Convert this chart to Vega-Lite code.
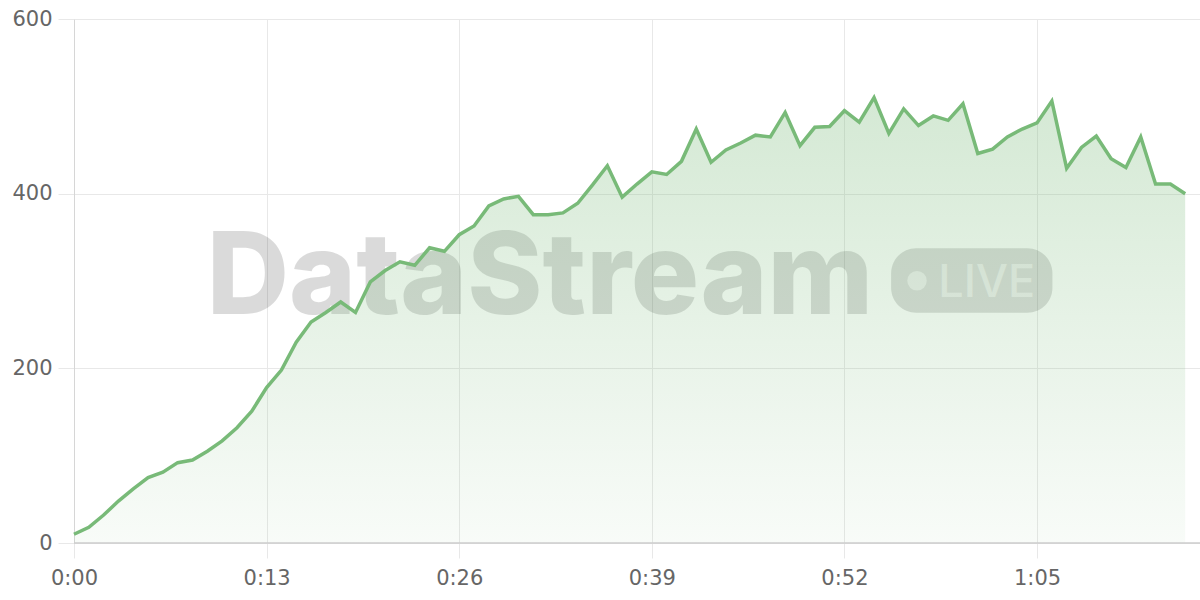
{
  "$schema": "https://vega.github.io/schema/vega-lite/v6.json",
  "width": 1126,
  "height": 524,
  "autosize": {"type": "none"},
  "padding": {"left": 74, "top": 19, "right": 0, "bottom": 57},
  "background": "white",
  "config": {
    "view": {"stroke": null},
    "axis": {"labelFont": "DejaVu Sans", "labelFontSize": 21, "labelColor": "#666666", "gridColor": "#e8e8e8", "tickColor": "#e8e8e8", "title": null}
  },
  "data": {"values": [
    {"t": 0, "v": 10}, {"t": 1, "v": 18}, {"t": 2, "v": 32}, {"t": 3, "v": 48}, {"t": 4, "v": 62},
    {"t": 5, "v": 75}, {"t": 6, "v": 81}, {"t": 7, "v": 92}, {"t": 8, "v": 95}, {"t": 9, "v": 105},
    {"t": 10, "v": 117}, {"t": 11, "v": 132}, {"t": 12, "v": 151}, {"t": 13, "v": 178}, {"t": 14, "v": 198},
    {"t": 15, "v": 230}, {"t": 16, "v": 253}, {"t": 17, "v": 264}, {"t": 18, "v": 276}, {"t": 19, "v": 264},
    {"t": 20, "v": 299}, {"t": 21, "v": 312}, {"t": 22, "v": 322}, {"t": 23, "v": 318}, {"t": 24, "v": 338},
    {"t": 25, "v": 334}, {"t": 26, "v": 353}, {"t": 27, "v": 363}, {"t": 28, "v": 386}, {"t": 29, "v": 394},
    {"t": 30, "v": 397}, {"t": 31, "v": 376}, {"t": 32, "v": 376}, {"t": 33, "v": 378}, {"t": 34, "v": 389},
    {"t": 35, "v": 410}, {"t": 36, "v": 432}, {"t": 37, "v": 396}, {"t": 38, "v": 411}, {"t": 39, "v": 425},
    {"t": 40, "v": 422}, {"t": 41, "v": 437}, {"t": 42, "v": 474}, {"t": 43, "v": 436}, {"t": 44, "v": 450},
    {"t": 45, "v": 458}, {"t": 46, "v": 467}, {"t": 47, "v": 465}, {"t": 48, "v": 493}, {"t": 49, "v": 455},
    {"t": 50, "v": 476}, {"t": 51, "v": 477}, {"t": 52, "v": 495}, {"t": 53, "v": 482}, {"t": 54, "v": 510},
    {"t": 55, "v": 469}, {"t": 56, "v": 497}, {"t": 57, "v": 478}, {"t": 58, "v": 489}, {"t": 59, "v": 484},
    {"t": 60, "v": 503}, {"t": 61, "v": 446}, {"t": 62, "v": 451}, {"t": 63, "v": 465}, {"t": 64, "v": 474},
    {"t": 65, "v": 481}, {"t": 66, "v": 506}, {"t": 67, "v": 429}, {"t": 68, "v": 453}, {"t": 69, "v": 466},
    {"t": 70, "v": 440}, {"t": 71, "v": 430}, {"t": 72, "v": 465}, {"t": 73, "v": 411}, {"t": 74, "v": 411},
    {"t": 75, "v": 400}
  ]},
  "layer": [
    {
      "data": {"values": [{}]},
      "mark": {"type": "text", "text": "DataStream", "font": "Inter", "fontWeight": 800, "fontSize": 114, "align": "center", "baseline": "alphabetic", "color": "#000000", "opacity": 0.14},
      "encoding": {
        "x": {"datum": 31.45, "type": "quantitative", "scale": {"domain": [0, 76], "nice": false}, "axis": {"values": [0, 13, 26, 39, 52, 65], "labelExpr": "floor(datum.value/60) + ':' + (datum.value % 60 < 10 ? '0' : '') + (datum.value % 60)", "grid": true, "tickSize": 15, "labelPadding": 9, "domain": false, "labelFlush": false}},
        "y": {"datum": 262, "type": "quantitative", "scale": {"domain": [0, 600], "nice": false}, "axis": {"values": [0, 200, 400, 600], "grid": true, "tickSize": 16, "labelPadding": 6, "domain": true, "domainColor": "#d6d6d6", "labelFlush": false}}
      }
    },
    {
      "data": {"values": [{}]},
      "mark": {"type": "rect", "cornerRadius": 25, "color": "#000000", "opacity": 0.14},
      "encoding": {
        "x": {"datum": 55.15, "type": "quantitative"},
        "x2": {"datum": 66.04},
        "y": {"datum": 263.7, "type": "quantitative"},
        "y2": {"datum": 337.4}
      }
    },
    {
      "data": {"values": [{}]},
      "mark": {"type": "point", "shape": "circle", "filled": true, "size": 380, "color": "#ffffff", "opacity": 0.55},
      "encoding": {
        "x": {"datum": 56.9, "type": "quantitative"},
        "y": {"datum": 300.3, "type": "quantitative"}
      }
    },
    {
      "data": {"values": [{}]},
      "mark": {"type": "text", "text": "LIVE", "font": "Inter", "fontWeight": 500, "fontSize": 45, "align": "left", "baseline": "alphabetic", "color": "#ffffff", "opacity": 0.55},
      "encoding": {
        "x": {"datum": 58.34, "type": "quantitative"},
        "y": {"datum": 281.7, "type": "quantitative"}
      }
    },
    {
      "mark": {"type": "area", "color": {"gradient": "linear", "x1": 0, "x2": 0, "y1": 0, "y2": 1, "stops": [{"offset": 0, "color": "rgba(122,186,122,0.32)"}, {"offset": 1, "color": "rgba(122,186,122,0.05)"}]}},
      "encoding": {
        "x": {"field": "t", "type": "quantitative"},
        "y": {"field": "v", "type": "quantitative"}
      }
    },
    {
      "mark": {"type": "line", "color": "#78ba78", "strokeWidth": 3.5, "strokeJoin": "miter"},
      "encoding": {
        "x": {"field": "t", "type": "quantitative"},
        "y": {"field": "v", "type": "quantitative"}
      }
    },
    {
      "data": {"values": [{}]},
      "mark": {"type": "rule", "color": "#cccccc", "strokeWidth": 1.5},
      "encoding": {
        "y": {"datum": 0, "type": "quantitative"}
      }
    }
  ]
}
